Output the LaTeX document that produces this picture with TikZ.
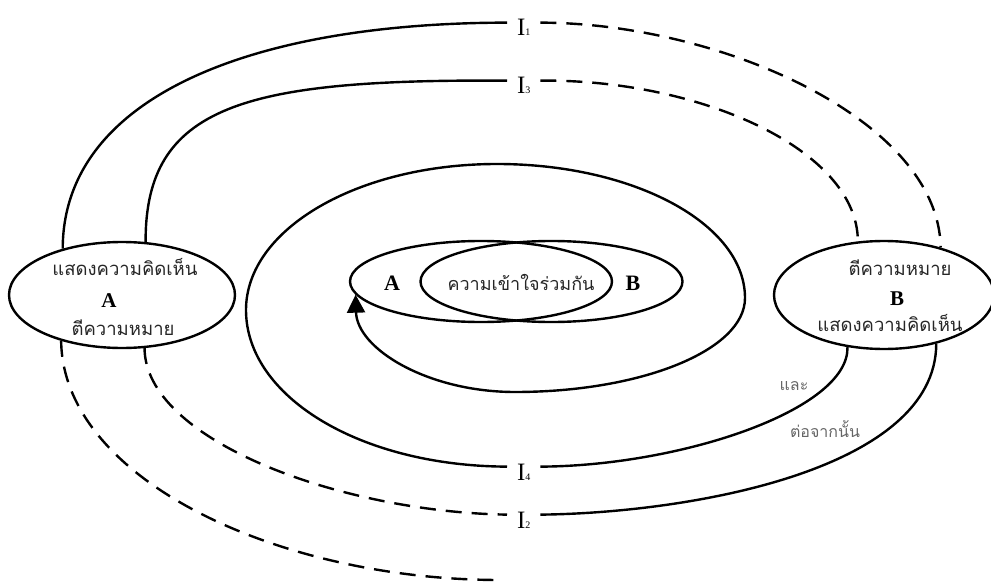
\documentclass[tikz,border=0pt]{standalone}
\usepackage{fontspec}
\setmainfont{Liberation Serif}
\newfontfamily\thaifont[Script=Thai]{Loma}
\usetikzlibrary{shapes.geometric,arrows.meta,positioning,calc}
\tikzset{
  side/.style={draw,ellipse,line width=2.4pt,inner sep=0pt},
  core/.style={draw,ellipse,line width=2.4pt,inner sep=0pt,minimum width=262pt,minimum height=81pt},
  thai/.style={font=\thaifont\fontsize{18.5}{20}\selectfont,text=black!85,inner sep=0pt,anchor=base},
  small/.style={font=\thaifont\fontsize{18}{20}\selectfont,text=black!85,inner sep=0pt,anchor=base},
  note/.style={font=\thaifont\fontsize{16}{18}\selectfont,text=black!60,inner sep=0pt,anchor=base},
  letter/.style={font=\bfseries\fontsize{21}{21}\selectfont,inner sep=0pt,anchor=base},
  ilab/.style={font=\fontsize{25}{25}\selectfont,inner sep=0pt,outer xsep=10pt,outer ysep=-3pt,anchor=base west},
  talk/.style={line width=2.4pt},
  hint/.style={line width=2.4pt,dash pattern=on 16pt off 10pt},
}
\newcommand{\ilabel}[1]{I{\fontsize{10}{10}\selectfont#1}}

\begin{document}
\begin{tikzpicture}[x=1pt,y=-1pt]
  \useasboundingbox (0,0) rectangle (991,583);
  %% the two sides
  \node[side,minimum width=226pt,minimum height=106pt] (pA) at (122,295) {};
  \node[side,minimum width=220pt,minimum height=108pt] (pB) at (884,295) {};
  \node[thai]   (sayA)  at (125,275) {แสดงความคิดเห็น};
  \node[letter] (nameA) at (109,307) {A};
  \node[thai]   (readA) at (123,335) {ตีความหมาย};
  \node[thai]   (readB) at (900,275) {ตีความหมาย};
  \node[letter] (nameB) at (897,305) {B};
  \node[thai]   (sayB)  at (890,331) {แสดงความคิดเห็น};
  %% shared understanding
  \node[core] (cA) at (481,281.5) {};
  \node[core] (cB) at (551.5,281.5) {};
  \node[letter,font=\bfseries\fontsize{22}{22}\selectfont] (inA) at (392,290) {A};
  \node[letter,font=\bfseries\fontsize{22}{22}\selectfont] (inB) at (633,290) {B};
  \node[small]  (both)  at (521,290) {ความเข้าใจร่วมกัน};
  %% interaction labels
  \node[ilab] (l1) at (507,36)  {\ilabel{1}};
  \node[ilab] (l3) at (507,94)  {\ilabel{3}};
  \node[ilab] (l4) at (507,480) {\ilabel{4}};
  \node[ilab] (l2) at (507,528) {\ilabel{2}};
  \coordinate (cut) at (500,580);
  \node[note] (andnote)  at (794,390) {และ};
  \node[note] (thennote) at (825,437) {ต่อจากนั้น};

  %% I1
  \draw[talk] (pA.142.5) .. controls (63,100) and (245,23) .. (l1.north west);
  \draw[hint] (l1.north east) .. controls (720,23) and (939,120) .. (pB.40.4);
  %% I3
  \draw[talk] (pA.66.1) .. controls (145,105) and (245,79) .. (l3.north west);
  \draw[hint] (l3.north east) .. controls (700,79) and (858,150) .. (pB.116.3);
  %% I4
  \draw[talk] (pB.235.6) .. controls (849,410) and (680,466) .. (l4.north east);
  \draw[talk,-{Triangle[length=18pt,width=18pt]}] (l4.north west)
    .. controls (359,466) and (246,396) .. (246,310)
    .. controls (246,229) and (358,164) .. (497,164)
    .. controls (634,164) and (745,224) .. (745,298)
    .. controls (745,350) and (642,392) .. (515,392)
    .. controls (428,392) and (357,349) .. (cA.186);
  %% I2
  \draw[talk] (pB.317.5) .. controls (936,470) and (690,513) .. (l2.north east);
  \draw[hint] (pA.293.9) .. controls (145,440) and (340,512) .. (l2.north west);
  %% outer
  \draw[hint] (pA.217.5) .. controls (63,480) and (280,580) .. (cut);
\end{tikzpicture}
\end{document}
